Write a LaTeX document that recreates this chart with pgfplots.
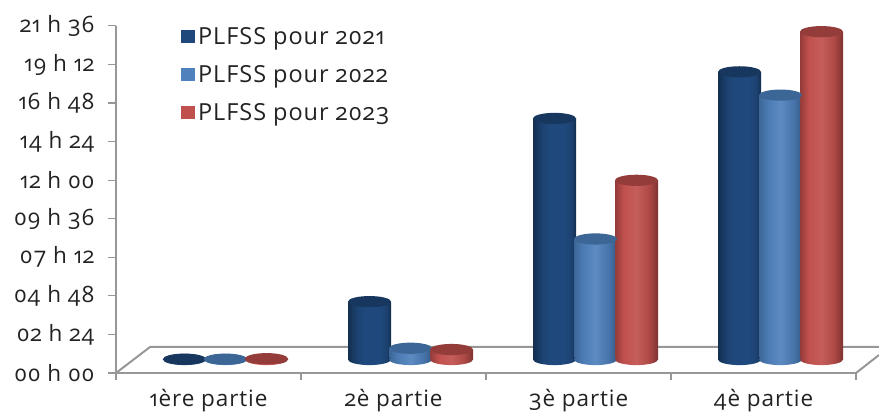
\documentclass[border=0pt]{standalone}
\usepackage{fontspec}
\setmainfont[Numbers=OldStyle,LetterSpace=4]{Open Sans}
\usepackage{pgfplots}
\usepackage{pgfplotstable}
\pgfplotsset{compat=1.18}

\definecolor{axisgray}{HTML}{979797}
\definecolor{txt}{HTML}{222222}
\definecolor{topA}{HTML}{17375E}
\definecolor{topB}{HTML}{3C6696}
\definecolor{topC}{HTML}{943C3A}
\definecolor{legA}{HTML}{1F497D}
\definecolor{legB}{HTML}{4F81BD}
\definecolor{legC}{HTML}{C0504D}

% cylinder sides, the path's box covers 25bp to 75bp
\pgfdeclarehorizontalshading{cylA}{100bp}{color(0bp)=(topA!85!black); color(25bp)=(topA!85!black); color(35bp)=(legA!90!black); color(45bp)=(legA); color(60bp)=(legA); color(70bp)=(legA!90!black); color(75bp)=(topA!80!black); color(100bp)=(topA!80!black)}
\pgfdeclarehorizontalshading{cylB}{100bp}{color(0bp)=(topB); color(25bp)=(topB); color(35bp)=(legB!95!black); color(50bp)=(legB!92!white); color(65bp)=(legB!90!black); color(75bp)=(topB!90!black); color(100bp)=(topB!90!black)}
\pgfdeclarehorizontalshading{cylC}{100bp}{color(0bp)=(topC); color(25bp)=(topC); color(35bp)=(legC); color(50bp)=(legC!92!white); color(65bp)=(legC!90!black); color(75bp)=(topC!85!black); color(100bp)=(topC!85!black)}

\pgfdeclareplotmark{topA}{\path[fill=topA,draw=none,rotate=7] (0,0) ellipse [x radius=21.5pt,y radius=5.6pt];}
\pgfdeclareplotmark{topB}{\path[fill=topB,draw=none,rotate=7] (0,0) ellipse [x radius=21.5pt,y radius=5.6pt];}
\pgfdeclareplotmark{topC}{\path[fill=topC,draw=none,rotate=7] (0,0) ellipse [x radius=21.5pt,y radius=5.6pt];}
\pgfdeclareplotmark{botA}{\path[shading=cylA,draw=none,rotate=6] (0,0) ellipse [x radius=21.5pt,y radius=5.6pt];}
\pgfdeclareplotmark{botB}{\path[shading=cylB,draw=none,rotate=6] (0,0) ellipse [x radius=21.5pt,y radius=5.6pt];}
\pgfdeclareplotmark{botC}{\path[shading=cylC,draw=none,rotate=6] (0,0) ellipse [x radius=21.5pt,y radius=5.6pt];}

% hours, one row per part
\pgfplotstableread{
x   base  a     b     c
0.5 0     0.02  0.02  0.05
1.5 0     3.60  0.70  0.62
2.5 0     15.0  7.50  11.15
3.5 0     17.9  16.45 20.4
}\data

\begin{document}
\begin{tikzpicture}[x=1pt,y=1pt]
  \useasboundingbox (-116,-41) rectangle (763,373);
  % floor of the 3d box
  \draw[axisgray,line width=2pt] (0,0) -- (34,26) -- (763,26);
  \draw[axisgray,line width=2pt] (740,0) -- (763,18);
  \begin{axis}[
    at={(0pt,0pt)}, anchor=origin,
    x=185pt, y=16.07pt,
    xmin=0, xmax=4, ymin=0, ymax=21.6,
    clip=false,
    axis lines=left,
    axis line style={-, draw=axisgray, line width=2.2pt},
    tick align=outside,
    xtick={0.5,1.5,2.5,3.5},
    xticklabels={1ère partie,2è partie,3è partie,4è partie},
    minor xtick={0,1,2,3,4},
    major x tick style={draw=none},
    minor x tick style={draw=axisgray, line width=1.2pt},
    minor tick length=7pt,
    ytick={0,2.4,...,21.7},
    yticklabels={00 h 00,02 h 24,04 h 48,07 h 12,09 h 36,12 h 00,14 h 24,16 h 48,19 h 12,21 h 36},
    y tick style={draw=axisgray, line width=1.2pt},
    major tick length=8pt,
    tick label style={font=\fontsize{22.5}{24}\selectfont, text=txt},
    xticklabel style={yshift=-5pt},
    yticklabel style={xshift=-10pt},
    legend cell align=left,
    legend style={at={(rel axis cs:0.0875,1.003)}, anchor=north west, draw=none, fill=none,
      font=\fontsize{23.5}{24}\selectfont, text=txt, row sep=15.5pt, inner sep=0pt},
    legend image code/.code={\fill[#1] (0pt,-6pt) rectangle (13pt,6.5pt); \path[draw=none,fill=none] (0pt,0pt) -- (15pt,0pt);},
  ]
    % one plot per bar, so that each cylinder gets its own shading
    \pgfplotsinvokeforeach{0:1,1:2,2:3,3:4}{
      % 2021
      \addplot[forget plot, only marks, mark=botA, xshift=-24pt, yshift=13.5pt, restrict x to domain=#1] table[x=x,y=base]{\data};
      \addplot[forget plot, ybar, bar width=43pt, bar shift=0pt, draw=none, shading=cylA, xshift=-24pt, yshift=13pt, restrict x to domain=#1] table[x=x,y=a]{\data};
      \addplot[forget plot, only marks, mark=topA, xshift=-24pt, yshift=13.5pt, restrict x to domain=#1] table[x=x,y=a]{\data};
      % 2022
      \addplot[forget plot, only marks, mark=botB, xshift=17pt, yshift=13.5pt, restrict x to domain=#1] table[x=x,y=base]{\data};
      \addplot[forget plot, ybar, bar width=43pt, bar shift=0pt, draw=none, shading=cylB, xshift=17pt, yshift=13pt, restrict x to domain=#1] table[x=x,y=b]{\data};
      \addplot[forget plot, only marks, mark=topB, xshift=17pt, yshift=13.5pt, restrict x to domain=#1] table[x=x,y=b]{\data};
      % 2023
      \addplot[forget plot, only marks, mark=botC, xshift=58pt, yshift=13.5pt, restrict x to domain=#1] table[x=x,y=base]{\data};
      \addplot[forget plot, ybar, bar width=43pt, bar shift=0pt, draw=none, shading=cylC, xshift=58pt, yshift=13pt, restrict x to domain=#1] table[x=x,y=c]{\data};
      \addplot[forget plot, only marks, mark=topC, xshift=58pt, yshift=13.5pt, restrict x to domain=#1] table[x=x,y=c]{\data};
    }
    \addlegendimage{legA}
    \addlegendimage{legB}
    \addlegendimage{legC}
    \legend{PLFSS pour 2021,PLFSS pour 2022,PLFSS pour 2023}
  \end{axis}
\end{tikzpicture}
\end{document}
